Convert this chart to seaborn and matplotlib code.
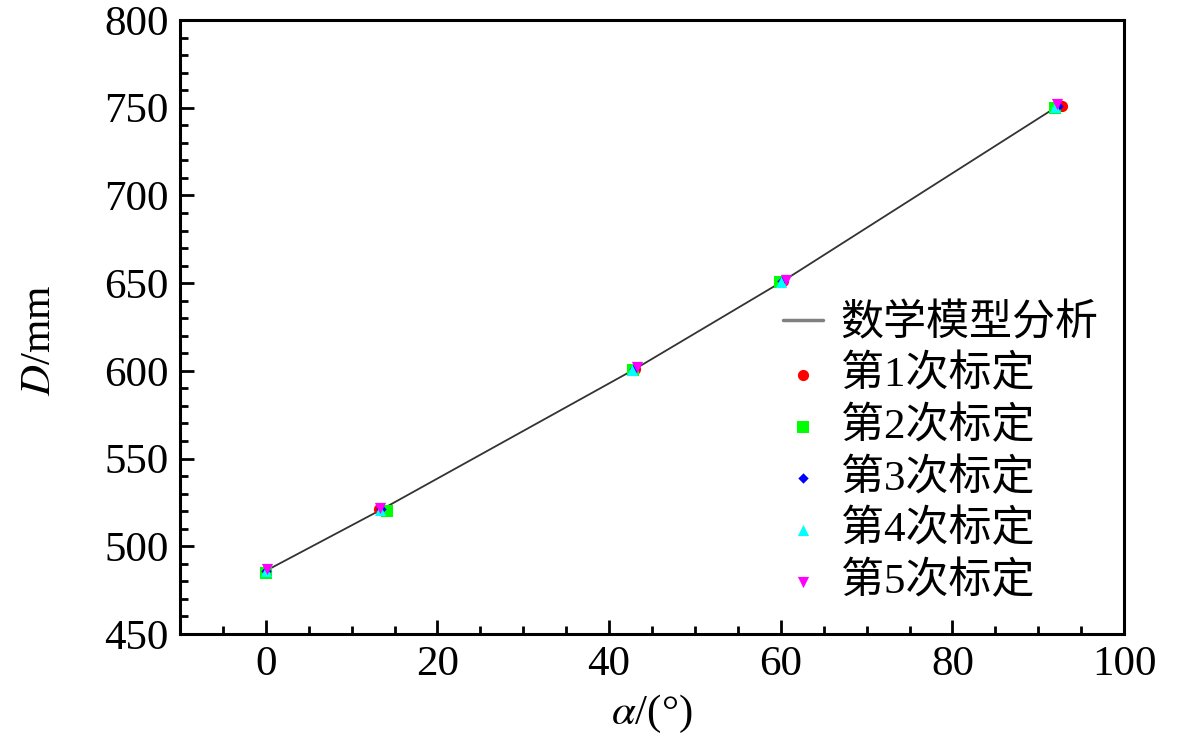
import numpy as np
import pandas as pd
import matplotlib
matplotlib.use("Agg")
import matplotlib.pyplot as plt
import seaborn as sns

# model curve
alpha_model = [0, 13.5, 43.0, 60.2, 92.3]
d_model = [486, 521, 601, 651, 751]

# calibration runs
a1 = [0.0, 13.2, 43.0, 60.3, 92.8]
d1 = [486, 521, 601, 651, 751]
a2 = [0.0, 14.1, 42.8, 59.9, 92.0]
d2 = [485, 520, 600.5, 650.5, 750]
a3 = [0.0, 13.4, 42.9, 60.1, 92.3]
d3 = [486, 521, 601, 651, 751]
a4 = [0.0, 13.3, 42.7, 60.0, 92.0]
d4 = [486, 520.5, 600.5, 650.5, 750.5]
a5 = [0.1, 13.3, 43.3, 60.6, 92.2]
d5 = [487, 522, 602, 652, 752]

labels = ["第1次标定", "第2次标定", "第3次标定", "第4次标定", "第5次标定"]
cols = ["#ff0000", "#00ff00", "#0000ff", "#00ffff", "#ff00ff"]
mks = ["o", "s", "D", "^", "v"]
sizes = [65, 65, 28, 65, 65]

sns.set_style("ticks")
plt.rcParams["font.family"] = ["Liberation Serif", "Noto Sans CJK SC"]
plt.rcParams["mathtext.fontset"] = "stix"
plt.rcParams["axes.unicode_minus"] = False
plt.rcParams["text.color"] = "black"
plt.rcParams["xtick.color"] = "black"
plt.rcParams["ytick.color"] = "black"
plt.rcParams["axes.labelcolor"] = "black"

fig = plt.figure(figsize=(11.81, 7.42), dpi=100)
ax = fig.add_axes([0.1524, 0.1456, 0.7994, 0.8274])

sns.lineplot(x=alpha_model, y=d_model, ax=ax, color="#333333", linewidth=1.3,
             label="数学模型分析", sort=False)

runs = [(a1, d1), (a2, d2), (a3, d3), (a4, d4), (a5, d5)]
for (a, d), lab, c, m, s in zip(runs, labels, cols, mks, sizes):
    sns.scatterplot(x=a, y=d, ax=ax, color=c, marker=m, s=s, linewidth=0,
                    label=lab, zorder=3)

ax.set_xlim(-10, 100)
ax.set_ylim(450, 800)
ax.set_xticks(np.arange(0, 101, 20))
ax.set_xticks(np.arange(-5, 100, 5), minor=True)
ax.set_yticks(np.arange(450, 801, 50))
ax.set_yticks(np.arange(460, 800, 10), minor=True)
ax.tick_params(which="major", direction="in", length=10, width=2, labelsize=31,
               top=False, right=False, pad=8)
ax.tick_params(which="minor", direction="in", length=6, width=2,
               top=False, right=False)
for sp in ax.spines.values():
    sp.set_linewidth(2.2)
    sp.set_color("black")

ax.set_xlabel(r"$\alpha$/(°)", fontsize=31, labelpad=7)
ax.set_ylabel(r"$D$/mm", fontsize=31)
ax.yaxis.set_label_coords(-0.128, 0.478)

leg = ax.legend(loc="center left", bbox_to_anchor=(0.62, 0.295), frameon=False,
                fontsize=31, handlelength=0.95, handletextpad=0.4,
                labelspacing=0.26, borderaxespad=0)
leg.get_lines()[0].set_color("#808080")
leg.get_lines()[0].set_linewidth(2.5)

fig.savefig("out.png", dpi=100)
